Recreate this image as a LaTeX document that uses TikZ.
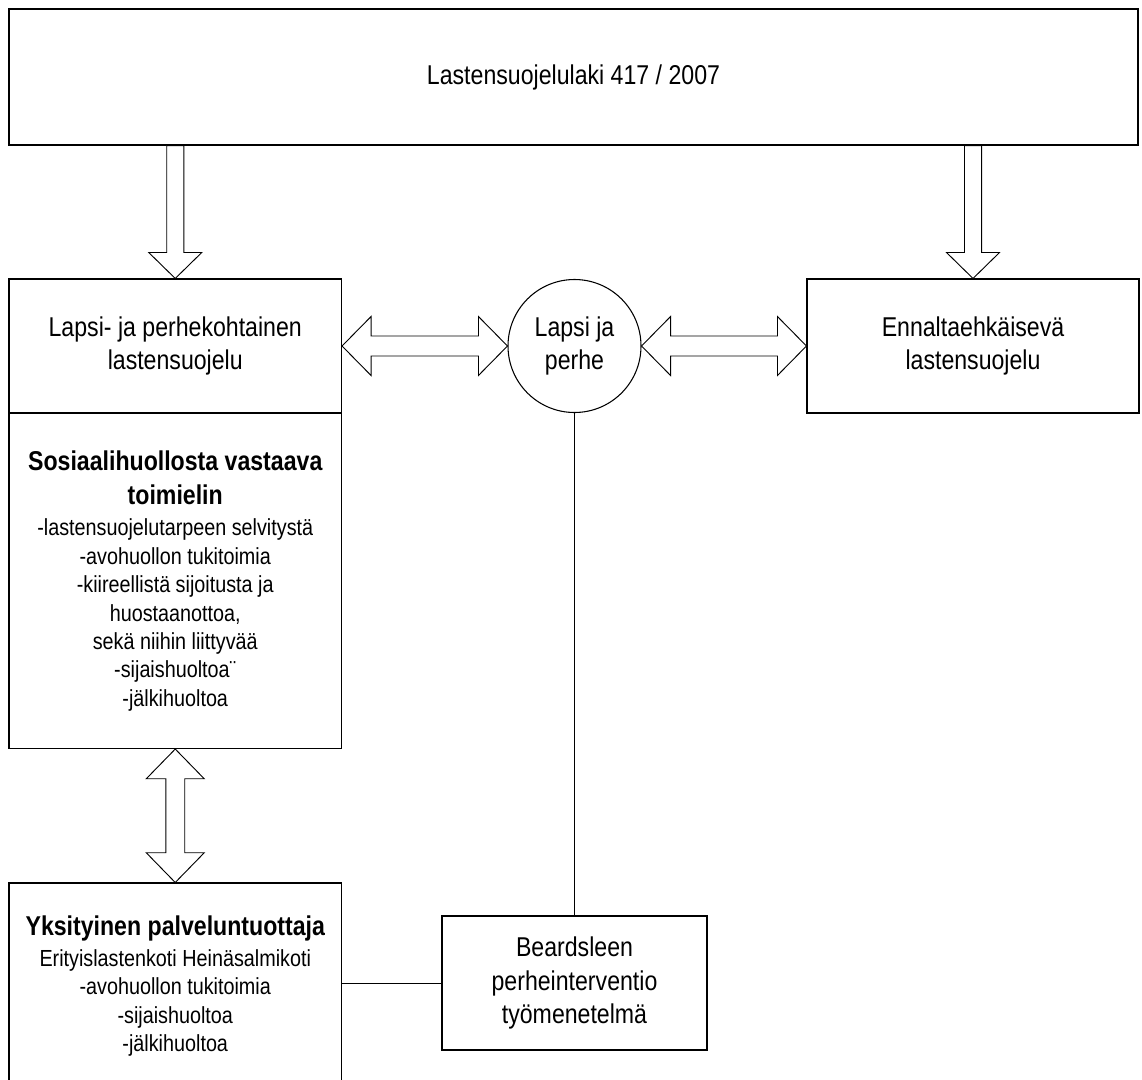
\documentclass[tikz,border=0pt]{standalone}
\usepackage{fontspec}
\setmainfont{Liberation Sans}[FakeStretch=0.85]
\usetikzlibrary{calc}
\newcommand{\fbig}{\fontsize{20.4pt}{25.1pt}\selectfont}
\newcommand{\fsmall}{\fontsize{17.45pt}{21.3pt}\selectfont}
\tikzset{
  box/.style={draw, line width=0.8pt, rectangle, inner sep=0pt, font=\fbig, align=center},
  textbox/.style={box, align=flush center, text width=325*0.75pt},
  barrow/.style={draw, fill=white, line width=0.7pt, line join=miter},
  link/.style={draw, line width=0.7pt}
}
\begin{document}
\begin{tikzpicture}[x=0.75pt, y=-0.75pt]
\clip (0,0) rectangle (1142,1079);
\fill[white] (0,0) rectangle (1142,1079);

% nodes
\node[box, minimum width=1129*0.75pt, minimum height=136*0.75pt] (top) at (573.5,77) {Lastensuojelulaki 417 / 2007};
\node[box, minimum width=332.5*0.75pt, minimum height=134*0.75pt] (lbtop) at (175.25,346) {Lapsi- ja perhekohtainen\\lastensuojelu};
\node[textbox, minimum width=332.5*0.75pt, minimum height=335*0.75pt] (lbbot) at (175.25,581)
  {\spaceskip=0pt\bfseries Sosiaalihuollosta vastaava\\toimielin\par
   \vspace*{2.6pt}\fsmall\mdseries -lastensuojelutarpeen selvitystä\\-avohuollon tukitoimia\\-kiireellistä sijoitusta ja\\huostaanottoa,\\sekä niihin liittyvää\\-sijaishuoltoa¨\\-jälkihuoltoa\par};
\node[box, minimum width=332*0.75pt, minimum height=134*0.75pt] (rb) at (973,346) {Ennaltaehkäisevä\\lastensuojelu};
\node[box, circle, minimum size=133*0.75pt] (circ) at (574.5,346) {Lapsi ja\\perhe};
\node[textbox, minimum width=332.5*0.75pt, minimum height=206*0.75pt] (yb) at (175.25,986)
  {\spaceskip=0pt\bfseries Yksityinen palveluntuottaja\par
   \vspace*{2pt}\fsmall\mdseries Erityislastenkoti Heinäsalmikoti\\-avohuollon tukitoimia\\-sijaishuoltoa\\-jälkihuoltoa\par};
\node[box, minimum width=265*0.75pt, minimum height=134*0.75pt] (beard) at (574.5,983) {Beardsleen\\perheinterventio\\työmenetelmä};

% down block arrows
\draw[barrow] let \p1=(top.south -| lbtop.north), \p2=(lbtop.north) in
  (\x1-6.4pt,\y1) -- (\x1-6.4pt,\y2+19.5pt) -- (\x1-19.9pt,\y2+19.5pt) -- (\x2,\y2)
  -- (\x1+19.9pt,\y2+19.5pt) -- (\x1+6.4pt,\y2+19.5pt) -- (\x1+6.4pt,\y1) -- cycle;
\draw[barrow] let \p1=(top.south -| rb.north), \p2=(rb.north) in
  (\x1-6.4pt,\y1) -- (\x1-6.4pt,\y2+19.5pt) -- (\x1-19.9pt,\y2+19.5pt) -- (\x2,\y2)
  -- (\x1+19.9pt,\y2+19.5pt) -- (\x1+6.4pt,\y2+19.5pt) -- (\x1+6.4pt,\y1) -- cycle;

% horizontal double block arrows
\draw[barrow] let \p1=(lbtop.east), \p2=(circ.west) in
  (\x1,\y1) -- (\x1+21.75pt,\y1+22.1pt) -- (\x1+21.75pt,\y1+7.5pt) -- (\x2-21.75pt,\y1+7.5pt)
  -- (\x2-21.75pt,\y1+22.1pt) -- (\x2,\y1) -- (\x2-21.75pt,\y1-22.1pt) -- (\x2-21.75pt,\y1-7.5pt)
  -- (\x1+21.75pt,\y1-7.5pt) -- (\x1+21.75pt,\y1-22.1pt) -- cycle;
\draw[barrow] let \p1=(circ.east), \p2=(rb.west) in
  (\x1,\y1) -- (\x1+21.75pt,\y1+22.1pt) -- (\x1+21.75pt,\y1+7.5pt) -- (\x2-21.75pt,\y1+7.5pt)
  -- (\x2-21.75pt,\y1+22.1pt) -- (\x2,\y1) -- (\x2-21.75pt,\y1-22.1pt) -- (\x2-21.75pt,\y1-7.5pt)
  -- (\x1+21.75pt,\y1-7.5pt) -- (\x1+21.75pt,\y1-22.1pt) -- cycle;

% vertical double block arrow
\draw[barrow] let \p1=(lbbot.south), \p2=(yb.north) in
  (\x1,\y1) -- (\x1+21.75pt,\y1-22.3pt) -- (\x1+7.1pt,\y1-22.3pt) -- (\x1+7.1pt,\y2+22.3pt)
  -- (\x1+21.75pt,\y2+22.3pt) -- (\x1,\y2) -- (\x1-21.75pt,\y2+22.3pt) -- (\x1-7.1pt,\y2+22.3pt)
  -- (\x1-7.1pt,\y1-22.3pt) -- (\x1-21.75pt,\y1-22.3pt) -- cycle;

% plain connectors
\draw[link] (circ.south) -- (circ.south |- beard.north);
\draw[link] (yb.east |- beard.west) -- (beard.west);
\end{tikzpicture}
\end{document}
